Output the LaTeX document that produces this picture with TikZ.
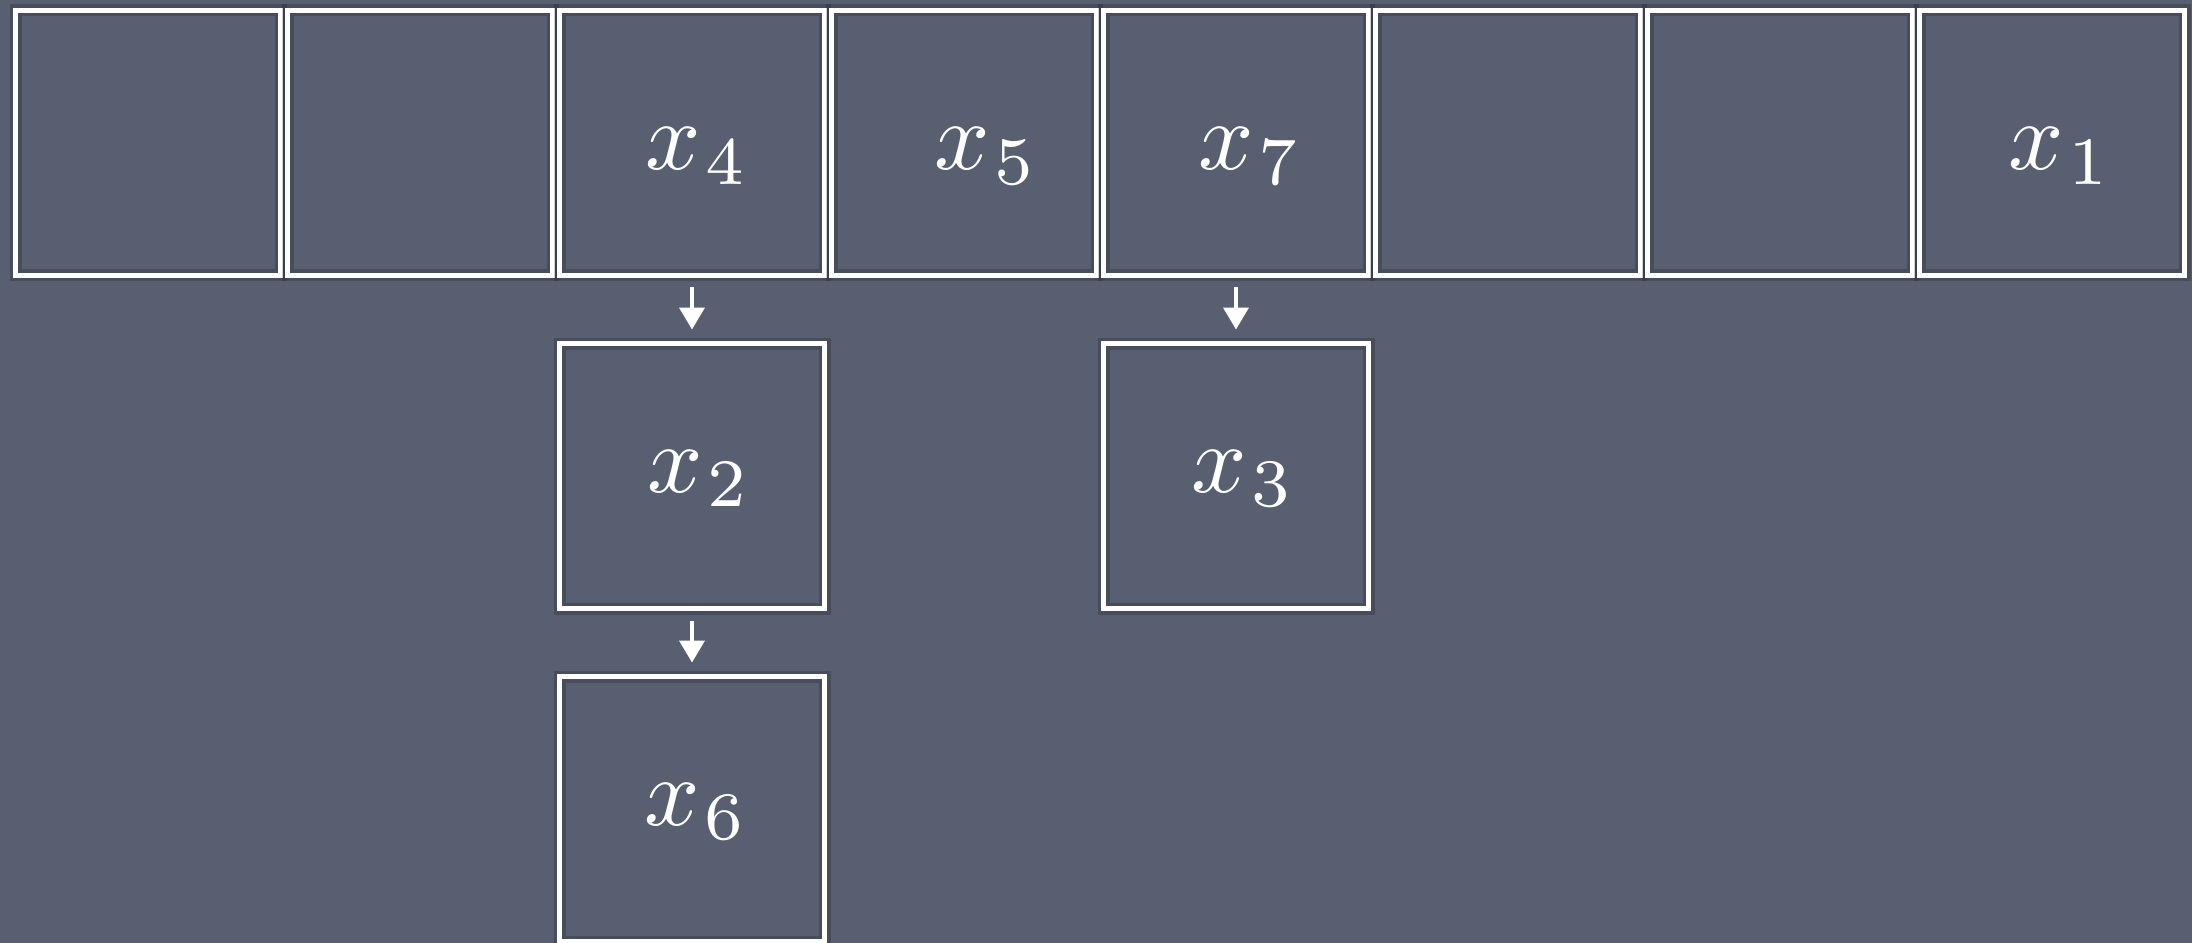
\documentclass[tikz,border=0pt]{standalone}
\usetikzlibrary{arrows.meta}
\definecolor{board}{RGB}{87,95,112}
\newcommand{\toplab}[2]{\raisebox{-13.5pt}[0pt][0pt]{\scalebox{4.85}{$#1_{\mkern1mu #2}$}}}
\newcommand{\lowlab}[2]{\raisebox{-8pt}[0pt][0pt]{\scalebox{4.85}{$#1_{\mkern1mu #2}$}}}
\begin{document}
\begin{tikzpicture}[x=0.5pt,y=-0.5pt,
  cell/.style={draw=white, line width=2.5pt, minimum size=132.5pt, inner sep=0pt,
    text=white, preaction={draw=black, draw opacity=0.18, line width=6pt}},
  link/.style={draw=white, line width=2pt, -{Triangle[width=12.5pt,length=11pt]},
    shorten <=4.75pt, shorten >=5.75pt}]
\fill[board] (0,0) rectangle (2192,943);
\useasboundingbox (0,0) rectangle (2192,943);
% top row
\node[cell] (c1) at (148,142.5) {};
\node[cell] (c2) at (420,142.5) {};
\node[cell] (c3) at (692,142.5) {\hspace{5pt}\toplab{x}{4}};
\node[cell] (c4) at (964,142.5) {\hspace{22pt}\toplab{x}{5}};
\node[cell] (c5) at (1236,142.5) {\hspace{14pt}\toplab{x}{7}};
\node[cell] (c6) at (1508,142.5) {};
\node[cell] (c7) at (1780,142.5) {};
\node[cell] (c8) at (2052,142.5) {\hspace{8pt}\toplab{x}{1}};
% chains
\node[cell] (b2) at (692,476) {\hspace{7pt}\lowlab{x}{2}};
\node[cell] (b6) at (692,809) {\hspace{4pt}\lowlab{x}{6}};
\node[cell] (b3) at (1236,476) {\hspace{7pt}\lowlab{x}{3}};
\draw[link] (c3.south) -- (b2.north);
\draw[link] (b2.south) -- (b6.north);
\draw[link] (c5.south) -- (b3.north);
\end{tikzpicture}
\end{document}
